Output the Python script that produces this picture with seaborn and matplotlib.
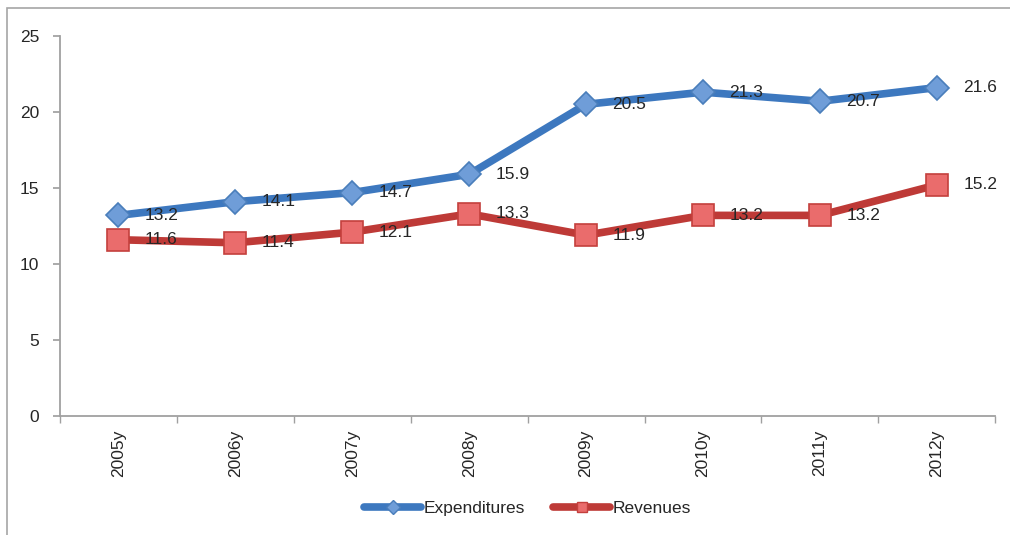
import seaborn as sns
import matplotlib.pyplot as plt
import matplotlib.patches as mpatches
from matplotlib.lines import Line2D
import pandas as pd
import numpy as np

years = ["2005y", "2006y", "2007y", "2008y", "2009y", "2010y", "2011y", "2012y"]
expenditures = [13.2, 14.1, 14.7, 15.9, 20.5, 21.3, 20.7, 21.6]
revenues = [11.6, 11.4, 12.1, 13.3, 11.9, 13.2, 13.2, 15.2]

sns.set_theme(style="white")
plt.rcParams['font.family'] = ['Liberation Sans Narrow', 'Liberation Sans', 'DejaVu Sans']

df = pd.DataFrame({
    "year": years * 2,
    "value": expenditures + revenues,
    "series": ["Expenditures"] * len(years) + ["Revenues"] * len(years),
})

fig = plt.figure(figsize=(10.1, 5.35), dpi=100)
ax = fig.add_axes([0.0594, 0.222, 0.926, 0.711])

# outer frame (only top/left edges visible in the reference)
fig.patches.append(mpatches.Rectangle((7 / 1010, -0.1), 1.2, 1 - 8 / 535 + 0.1,
                                      transform=fig.transFigure, fill=False,
                                      edgecolor="#A6A6A6", linewidth=1.2, zorder=0))

line_colors = {"Expenditures": "#3D78BF", "Revenues": "#BE3A37"}
face_colors = {"Expenditures": "#6F9DD8", "Revenues": "#EA6C6C"}
edge_colors = {"Expenditures": "#4A7EBB", "Revenues": "#C4403D"}
markers = {"Expenditures": "D", "Revenues": "s"}
msizes = {"Expenditures": 12.5, "Revenues": 16.5}

x = np.arange(len(years))
handles = []
for name, vals in [("Expenditures", expenditures), ("Revenues", revenues)]:
    sub = df[df.series == name]
    sns.lineplot(data=sub, x="year", y="value", ax=ax, sort=False,
                 color=line_colors[name], linewidth=5.5, marker=markers[name],
                 markersize=msizes[name], markerfacecolor=face_colors[name],
                 markeredgecolor=edge_colors[name], markeredgewidth=1.2,
                 solid_capstyle="round", legend=False)
    for xi, v in zip(x, vals):
        ax.annotate(f"{v:.1f}", (xi, v), xytext=(19, 0), textcoords="offset points",
                    ha="left", va="center", fontsize=12.5, color="#262626")
    handles.append(Line2D([], [], color=line_colors[name], linewidth=5.5,
                          marker=markers[name], markersize=7,
                          markerfacecolor=face_colors[name],
                          markeredgecolor=edge_colors[name],
                          solid_capstyle="round", label=name))

ax.set_xlim(-0.5, len(years) - 0.5)
ax.set_ylim(0, 25)
ax.set_yticks([0, 5, 10, 15, 20, 25])
ax.set_xticks(x)
ax.set_xticklabels(years, rotation=90, fontsize=12.5, color="#262626")
ax.set_xticks(np.arange(-0.5, len(years)), minor=True)
ax.tick_params(axis="x", which="major", length=0, pad=10)
ax.tick_params(axis="x", which="minor", length=5, color="#A0A0A0", direction="out", bottom=True)
ax.tick_params(axis="y", length=5, color="#A0A0A0", direction="out", left=True,
               labelsize=12.5, labelcolor="#262626", pad=10)
ax.set_xlabel("")
ax.set_ylabel("")
for s in ["top", "right"]:
    ax.spines[s].set_visible(False)
for s in ["left", "bottom"]:
    ax.spines[s].set_color("#A0A0A0")
    ax.spines[s].set_linewidth(1.3)

ax.legend(handles=handles, loc="center", bbox_to_anchor=(0.5, -0.243), ncol=2,
          frameon=False, fontsize=12.5, handlelength=3.3, columnspacing=1.6,
          handletextpad=0.15)

plt.savefig("out.png", dpi=100)
